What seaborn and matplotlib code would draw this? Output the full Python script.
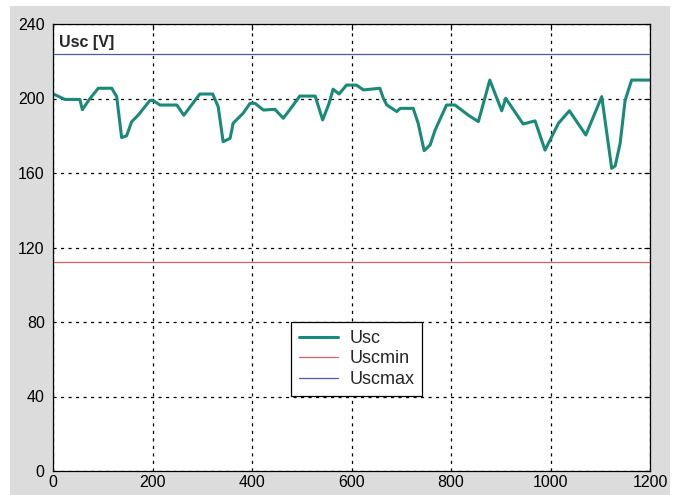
import matplotlib.pyplot as plt
import matplotlib.patches as mpatches
import seaborn as sns
import pandas as pd

# Usc trace (time, volts)
t = [0, 24, 54, 59, 73, 91, 118, 128, 138, 148, 158, 171, 195, 202, 215, 249,
     263, 295, 321, 332, 342, 356, 362, 382, 396, 406, 423, 446, 463, 483,
     496, 527, 542, 555, 563, 575, 590, 610, 624, 657, 664, 671, 691, 698,
     724, 734, 746, 758, 768, 791, 808, 835, 855, 878, 902, 910, 945, 969,
     989, 1016, 1038, 1071, 1103, 1123, 1130, 1140, 1150, 1163, 1200]
usc = [202.5, 199.5, 199.5, 194, 199.5, 205.5, 205.5, 201, 179, 180, 187.5, 191,
       199, 198.8, 196.5, 196.5, 191, 202.4, 202.4, 195.6, 176.8, 178.6, 186.7,
       192, 197.4, 197.4, 193.8, 194.2, 189.4, 196.5, 201.3, 201.3, 188.5,
       197.4, 205, 202.4, 207.2, 207.2, 204.6, 205.5, 200.1, 196.5, 193,
       194.7, 194.7, 186.7, 172, 175, 183, 196.5, 196.5, 191, 187.6, 209.9,
       193.4, 200.1, 186.3, 188, 172.3, 186.7, 193.4, 180.4, 201, 162.5,
       163.8, 176, 199, 209.9, 209.9]
usc_min = 112
usc_max = 224
t_range = [0, 1200]

df = pd.DataFrame({'t': t, 'Usc': usc})
lim_df = pd.DataFrame({'t': t_range,
                       'Uscmin': [usc_min, usc_min],
                       'Uscmax': [usc_max, usc_max]})

sns.set_style('white')
plt.rcParams['font.family'] = ['Liberation Sans', 'DejaVu Sans']

fig = plt.figure(figsize=(6.81, 4.95), dpi=100)
fig.patches.append(mpatches.Rectangle((10 / 681, 0), 660 / 681, 1 - 6 / 495,
                                      transform=fig.transFigure,
                                      facecolor='#dcdcdc', edgecolor='none',
                                      zorder=-10))
ax = fig.add_axes([53 / 681, 24 / 495, 597 / 681, 447 / 495])
ax.set_facecolor('white')

sns.lineplot(x='t', y='Usc', data=df, ax=ax, color='#1a8a78', linewidth=2.2,
             label='Usc')
sns.lineplot(x='t', y='Uscmin', data=lim_df, ax=ax, color='#d2606a',
             linewidth=0.9, label='Uscmin')
sns.lineplot(x='t', y='Uscmax', data=lim_df, ax=ax, color='#4c5aa8',
             linewidth=0.9, label='Uscmax')

ax.set_xlim(0, 1200)
ax.set_ylim(0, 240)
ax.set_xticks(range(0, 1201, 200))
ax.set_yticks(range(0, 241, 40))
ax.set_xlabel('')
ax.set_ylabel('')
ax.grid(True, color='black', linestyle=(0, (2.5, 3.5)), linewidth=0.9)
ax.tick_params(direction='in', length=4, width=0.8, top=True, right=True,
               labelsize=11.5, colors='black', pad=6)
ax.tick_params(axis='x', pad=3)
for s in ax.spines.values():
    s.set_visible(True)
    s.set_color('black')
    s.set_linewidth(0.9)

ax.text(0.01, 0.975, 'Usc [V]', transform=ax.transAxes, fontsize=11.5,
        fontweight='bold', va='top', ha='left')

leg = ax.legend(loc='upper left', bbox_to_anchor=(0.398, 0.334),
                fontsize=13, frameon=True, fancybox=False, framealpha=1,
                edgecolor='black', borderpad=0.45, labelspacing=0.2,
                handlelength=2.2, handletextpad=0.6, borderaxespad=0)
leg.get_frame().set_linewidth(0.9)

plt.savefig('out.png', dpi=100)
plt.close()
